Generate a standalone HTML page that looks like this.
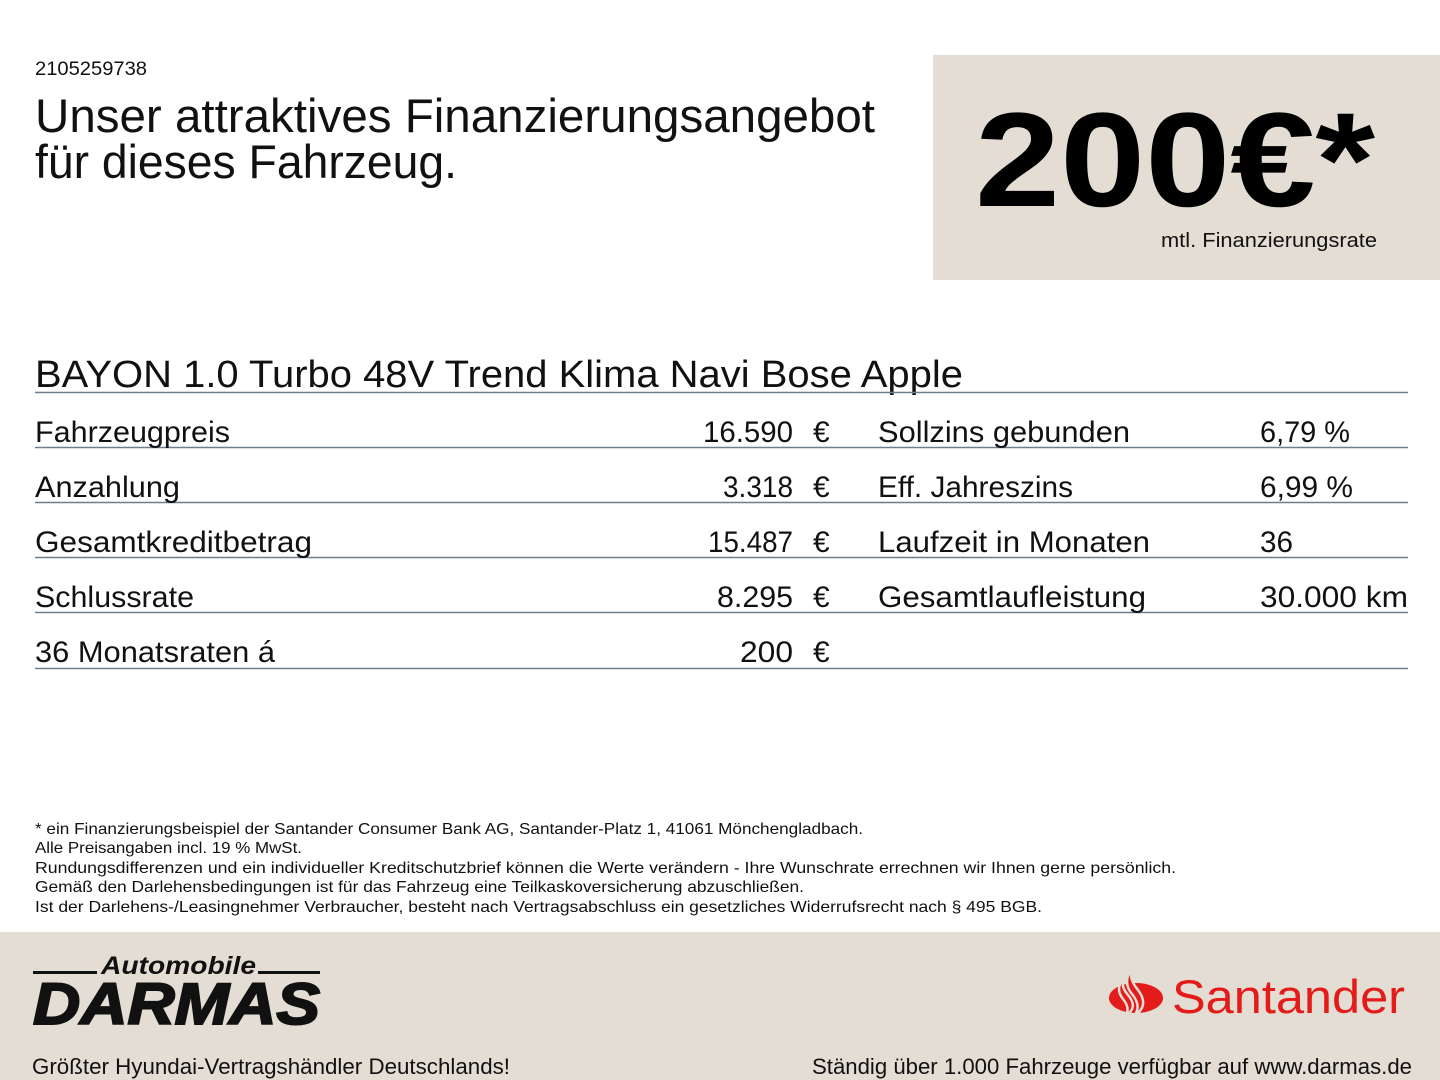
<!DOCTYPE html>
<html><head><meta charset="utf-8"><style>
html,body{margin:0;padding:0;background:#fff;}
svg{display:block;}
text{font-family:"Liberation Sans",sans-serif;fill:#111;}
</style></head><body>
<svg width="1440" height="1080" viewBox="0 0 1440 1080" xmlns="http://www.w3.org/2000/svg">
<rect x="933" y="55" width="507" height="225" fill="#e3ddd3"/>
<rect x="0" y="932" width="1440" height="148" fill="#e3ddd3"/>

<text x="35" y="75" font-size="19" textLength="112" lengthAdjust="spacingAndGlyphs">2105259738</text>
<text x="35" y="132" font-size="47" textLength="840" lengthAdjust="spacingAndGlyphs">Unser attraktives Finanzierungsangebot</text>
<text x="35" y="178" font-size="47" textLength="422" lengthAdjust="spacingAndGlyphs">für dieses Fahrzeug.</text>

<text x="975" y="206" font-size="134" font-weight="bold" textLength="400" lengthAdjust="spacingAndGlyphs" style="fill:#000">200€*</text>
<text x="1161" y="247" font-size="20" textLength="216" lengthAdjust="spacingAndGlyphs">mtl. Finanzierungsrate</text>

<text x="35" y="387" font-size="38" textLength="928" lengthAdjust="spacingAndGlyphs">BAYON 1.0 Turbo 48V Trend Klima Navi Bose Apple</text>
<g stroke="#6f7d8c" stroke-width="1.5">
<line x1="35" y1="392.5" x2="1408" y2="392.5"/>
<line x1="35" y1="447.5" x2="1408" y2="447.5"/>
<line x1="35" y1="502.5" x2="1408" y2="502.5"/>
<line x1="35" y1="557.5" x2="1408" y2="557.5"/>
<line x1="35" y1="612.5" x2="1408" y2="612.5"/>
<line x1="35" y1="668.5" x2="1408" y2="668.5"/>
</g>
<g font-size="30">
<text x="35" y="442" textLength="195" lengthAdjust="spacingAndGlyphs">Fahrzeugpreis</text>
<text x="35" y="497" textLength="145" lengthAdjust="spacingAndGlyphs">Anzahlung</text>
<text x="35" y="552" textLength="277" lengthAdjust="spacingAndGlyphs">Gesamtkreditbetrag</text>
<text x="35" y="607" textLength="159" lengthAdjust="spacingAndGlyphs">Schlussrate</text>
<text x="35" y="662" textLength="240" lengthAdjust="spacingAndGlyphs">36 Monatsraten á</text>
<text x="703" y="442" textLength="90" lengthAdjust="spacingAndGlyphs">16.590</text>
<text x="723" y="497" textLength="70" lengthAdjust="spacingAndGlyphs">3.318</text>
<text x="708" y="552" textLength="85" lengthAdjust="spacingAndGlyphs">15.487</text>
<text x="717" y="607" textLength="76" lengthAdjust="spacingAndGlyphs">8.295</text>
<text x="740" y="662" textLength="53" lengthAdjust="spacingAndGlyphs">200</text>
<text x="813" y="442">€</text><text x="813" y="497">€</text><text x="813" y="552">€</text><text x="813" y="607">€</text><text x="813" y="662">€</text>
<text x="878" y="442" textLength="252" lengthAdjust="spacingAndGlyphs">Sollzins gebunden</text>
<text x="878" y="497" textLength="195" lengthAdjust="spacingAndGlyphs">Eff. Jahreszins</text>
<text x="878" y="552" textLength="272" lengthAdjust="spacingAndGlyphs">Laufzeit in Monaten</text>
<text x="878" y="607" textLength="268" lengthAdjust="spacingAndGlyphs">Gesamtlaufleistung</text>
<text x="1260" y="442" textLength="90" lengthAdjust="spacingAndGlyphs">6,79 %</text>
<text x="1260" y="497" textLength="93" lengthAdjust="spacingAndGlyphs">6,99 %</text>
<text x="1260" y="552" textLength="33" lengthAdjust="spacingAndGlyphs">36</text>
<text x="1260" y="607" textLength="148" lengthAdjust="spacingAndGlyphs">30.000 km</text>
</g>

<g font-size="16">
<text x="35" y="834" textLength="828" lengthAdjust="spacingAndGlyphs">* ein Finanzierungsbeispiel der Santander Consumer Bank AG, Santander-Platz 1, 41061 Mönchengladbach.</text>
<text x="35" y="853" textLength="267" lengthAdjust="spacingAndGlyphs">Alle Preisangaben incl. 19 % MwSt.</text>
<text x="35" y="873" textLength="1141" lengthAdjust="spacingAndGlyphs">Rundungsdifferenzen und ein individueller Kreditschutzbrief können die Werte verändern - Ihre Wunschrate errechnen wir Ihnen gerne persönlich.</text>
<text x="35" y="892" textLength="769" lengthAdjust="spacingAndGlyphs">Gemäß den Darlehensbedingungen ist für das Fahrzeug eine Teilkaskoversicherung abzuschließen.</text>
<text x="35" y="912" textLength="1007" lengthAdjust="spacingAndGlyphs">Ist der Darlehens-/Leasingnehmer Verbraucher, besteht nach Vertragsabschluss ein gesetzliches Widerrufsrecht nach § 495 BGB.</text>
</g>

<!-- Darmas logo -->
<rect x="33" y="971" width="64" height="3" fill="#111"/>
<rect x="258" y="971" width="62" height="3" fill="#111"/>
<text x="101" y="974" font-size="25" font-weight="bold" font-style="italic" textLength="155" lengthAdjust="spacingAndGlyphs">Automobile</text>
<text x="33" y="1024" font-size="58" font-weight="bold" font-style="italic" textLength="287" lengthAdjust="spacingAndGlyphs" stroke="#111" stroke-width="2" style="fill:#111">DARMAS</text>
<text x="32" y="1074" font-size="22" textLength="478" lengthAdjust="spacingAndGlyphs">Größter Hyundai-Vertragshändler Deutschlands!</text>
<text x="812" y="1074" font-size="22" textLength="600" lengthAdjust="spacingAndGlyphs">Ständig über 1.000 Fahrzeuge verfügbar auf www.darmas.de</text>

<!-- Santander logo -->
<ellipse cx="1136" cy="998" rx="27" ry="15" fill="#e41b1b"/>
<path d="M1132 968 q-10 14 0 26 q10 12 2 22 q16-10 4-26 q-10-12 -6-22z" fill="#e41b1b" stroke="#e3ddd3" stroke-width="2.5"/>
<path d="M1123 979 q-8 10 0 20 q8 10 2 17 q14-8 3-21 q-7-8 -5-16z" fill="#e41b1b" stroke="#e3ddd3" stroke-width="2.5"/>
<text x="1172" y="1013" font-size="47" textLength="233" lengthAdjust="spacingAndGlyphs" style="fill:#e41b1b">Santander</text>
</svg>
</body></html>
